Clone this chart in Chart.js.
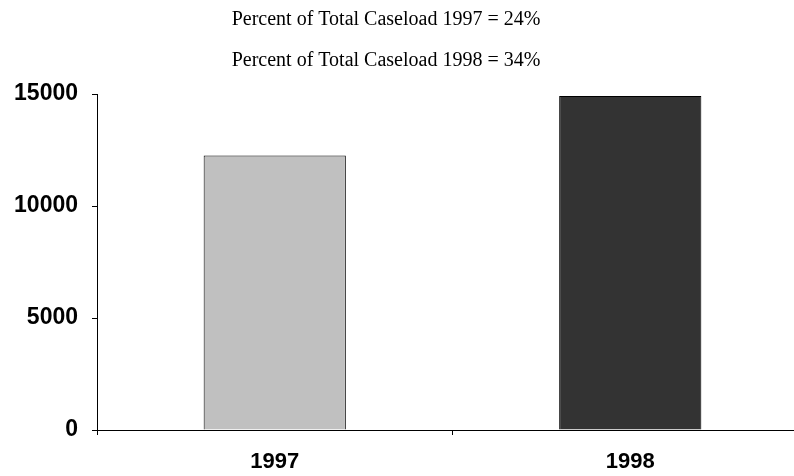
<!DOCTYPE html>
<html>
<head>
<meta charset="utf-8">
<script src="https://cdn.jsdelivr.net/npm/chart.js@4/dist/chart.umd.min.js"></script>
<style>
  html, body { margin: 0; padding: 0; background: #fff; overflow: hidden; }
  #wrap { position: relative; width: 808px; height: 476px; }
</style>
</head>
<body>
<div id="wrap"><canvas id="c" width="808" height="476"></canvas></div>
<script>
const categories = ['1997', '1998'];
const caseloadValues = [12260, 14910];
const barColors = ['#c0c0c0', '#333333'];
const yTicks = [0, 5000, 10000, 15000];
const titleLines = ['Percent of Total Caseload 1997 = 24%', 'Percent of Total Caseload 1998 = 34%'];

const titlePlugin = {
  id: 'twoLineTitle',
  afterDraw(chart) {
    const ctx = chart.ctx;
    ctx.save();
    ctx.fillStyle = '#000';
    ctx.font = '20px "Liberation Serif", "Times New Roman", serif';
    ctx.textAlign = 'center';
    ctx.textBaseline = 'middle';
    const cx = 386;
    titleLines.forEach((t, i) => ctx.fillText(t, cx, 20 + i * 41));
    ctx.restore();
  }
};

new Chart(document.getElementById('c'), {
  type: 'bar',
  data: {
    labels: categories,
    datasets: [{
      data: caseloadValues,
      backgroundColor: barColors,
      borderColor: '#000',
      borderWidth: 1,
      barPercentage: 0.4,
      categoryPercentage: 1.0
    }]
  },
  options: {
    responsive: false,
    animation: false,
    layout: { padding: { top: 94, right: 0, left: 0, bottom: 0 } },
    plugins: { legend: { display: false }, title: { display: false }, tooltip: { enabled: false } },
    scales: {
      x: {
        grid: { display: true, drawOnChartArea: false, offset: true, color: '#000', tickLength: 5, lineWidth: 1 },
        border: { display: true, color: '#000', width: 1 },
        ticks: { color: '#000', font: { family: '"Liberation Sans", Arial, sans-serif', size: 22, weight: 'bold' }, padding: 14 },
        afterFit(scale) { scale.height = 46; }
      },
      y: {
        min: 0, max: 15000,
        afterBuildTicks(scale) { scale.ticks = yTicks.map(v => ({ value: v })); },
        grid: { display: true, drawOnChartArea: false, color: '#000', tickLength: 5, lineWidth: 1 },
        border: { display: true, color: '#000', width: 1 },
        ticks: { color: '#000', font: { family: '"Liberation Sans", Arial, sans-serif', size: 23, weight: 'bold' }, padding: 14, callback: v => String(v) },
        afterFit(scale) { scale.width = 97; }
      }
    }
  },
  plugins: [titlePlugin]
});
</script>
</body>
</html>
